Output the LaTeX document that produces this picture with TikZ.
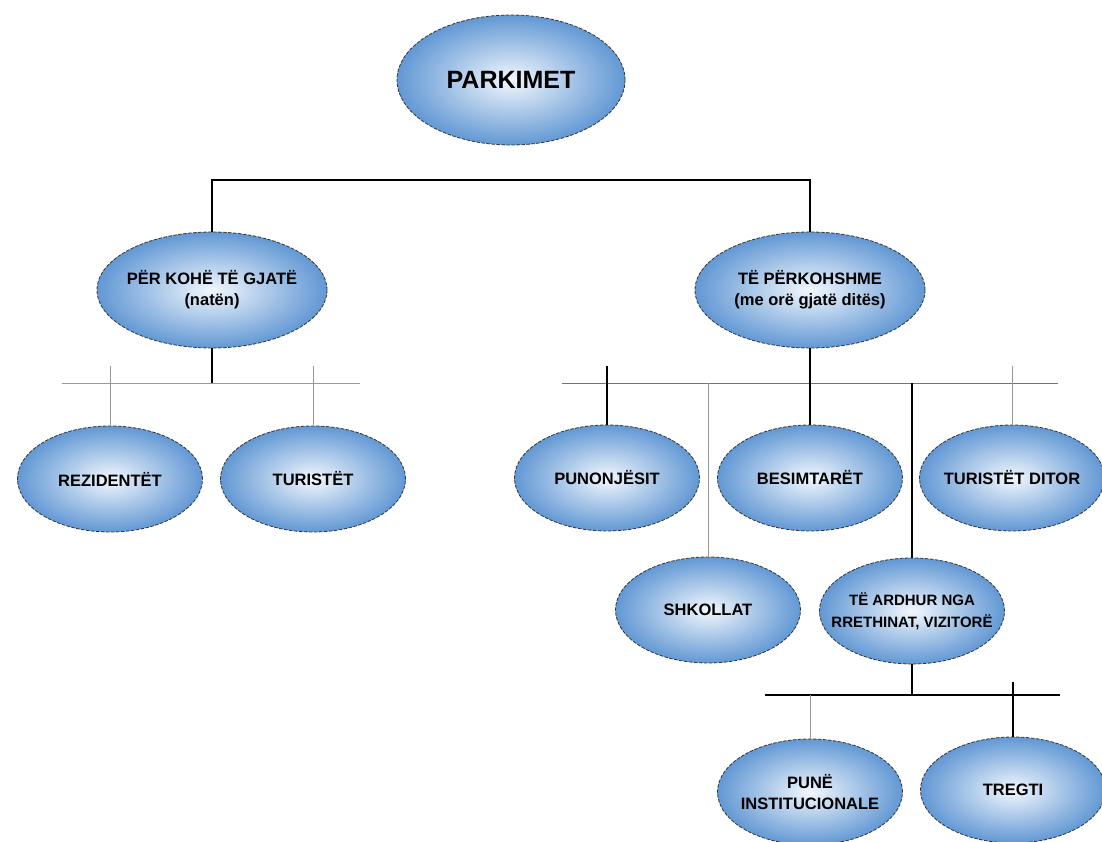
\documentclass[tikz,border=0pt]{standalone}
\usepackage{fontspec}
\setmainfont{Liberation Sans}
\usetikzlibrary{shapes.geometric}
\definecolor{cRim} {RGB}{98,152,212}
\definecolor{cCore}{RGB}{242,247,253}
\tikzset{
  blob/.style={ellipse,draw=black!80,dash pattern=on 3.5pt off 1.5pt,line width=0.8pt,
               inner color=cCore,outer color=cRim,minimum width=185,minimum height=106,
               inner xsep=-8pt,inner ysep=1pt,align=center,
               font=\fontsize{16.5}{21}\selectfont\bfseries},
  bigblob/.style={blob,minimum width=230,minimum height=116},
  rootblob/.style={blob,minimum width=228,minimum height=130,
                   font=\fontsize{25}{29}\selectfont\bfseries},
  link/.style={black,line width=1.1pt},
  faint/.style={black!40,line width=0.6pt},
}

\begin{document}
\begin{tikzpicture}[x=1pt,y=-1pt]
  \useasboundingbox (0,0) rectangle (1102,842);
  % heights of the bars
  \coordinate (yTop) at (0,180);
  \coordinate (yMid) at (0,383);
  \coordinate (yLow) at (0,695);
  \coordinate (yMidUp) at (0,366);
  \coordinate (yLowUp) at (0,682);

  \node[rootblob] (park) at (511,80) {PARKIMET};
  \node[bigblob] (night) at (212,290) {PËR KOHË TË GJATË\\(natën)};
  \node[bigblob] (day)   at (810,290) {TË PËRKOHSHME\\(me orë gjatë ditës)};

  % long-stay group
  \node[blob] (resid) at (110,479) {REZIDENTËT};
  \node[blob] (tour)  at (313,479) {TURISTËT};

  % short-stay group
  \node[blob] (work)   at (607,478) {PUNONJËSIT};
  \node[blob] (faith)  at (810,478) {BESIMTARËT};
  \node[blob] (dtour)  at (1012,478) {TURISTËT DITOR};
  \node[blob] (school) at (708,610) {SHKOLLAT};
  \node[blob,inner xsep=-16pt,font=\fontsize{15}{22}\selectfont\bfseries]
       (visit)  at (912,611) {TË ARDHUR NGA\\RRETHINAT, VIZITORË};
  \node[blob] (inst)   at (810,792) {PUNË\\INSTITUCIONALE};
  \node[blob] (trade)  at (1013,790) {TREGTI};

  % top split
  \draw[link] (night.north) -- (night.north |- yTop) -- (day.north |- yTop) -- (day.north);

  % left bar
  \coordinate (lbW) at (62,383);
  \coordinate (lbE) at (360,383);
  \draw[faint] (lbW) -- (lbE);
  \draw[link] (night.south) -- (night.south |- yMid);
  \draw[faint] (resid.north |- yMidUp) -- (resid.north);
  \draw[faint] (tour.north |- yMidUp) -- (tour.north);

  % right bar
  \coordinate (rbW) at (562,383);
  \coordinate (rbE) at (1058,383);
  \draw[faint,black!55] (rbW) -- (rbE);
  \draw[link] (day.south) -- (faith.north);
  \draw[link] (work.north |- yMidUp) -- (work.north);
  \draw[faint] (dtour.north |- yMidUp) -- (dtour.north);
  \draw[faint] (school.north |- yMid) -- (school.north);
  \draw[link] (visit.north |- yMid) -- (visit.north);

  % lower bar
  \coordinate (sbW) at (765,695);
  \coordinate (sbE) at (1060,695);
  \draw[link] (sbW) -- (sbE);
  \draw[link] (visit.south) -- (visit.south |- yLow);
  \draw[faint] (inst.north |- yLow) -- (inst.north);
  \draw[link] (trade.north |- yLowUp) -- (trade.north);
\end{tikzpicture}
\end{document}
